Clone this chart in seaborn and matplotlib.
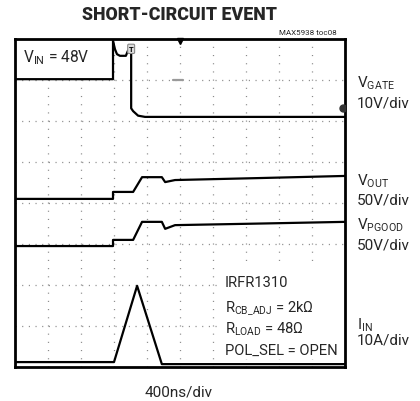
import numpy as np
import pandas as pd
import matplotlib
matplotlib.use("Agg")
import matplotlib.pyplot as plt
import seaborn as sns
from matplotlib import font_manager as fm

# ---------------- data (scope divisions: x 0..10, y 0..8) ----------------
t_gate = [0.0, 2.97, 2.97, 3.03, 3.09, 3.18, 3.36, 3.42, 3.52, 3.52, 3.58, 3.73, 3.94, 10.0]
v_gate = [7.02, 7.02, 7.95, 7.75, 7.63, 7.59, 7.59, 7.71, 7.78, 6.31, 6.24, 6.13, 6.10, 6.10]

t_out = [0.0, 2.97, 2.97, 3.58, 3.85, 4.45, 4.55, 4.85, 7.5, 10.0]
v_out = [4.10, 4.10, 4.27, 4.27, 4.63, 4.63, 4.51, 4.56, 4.61, 4.66]

t_pg = [0.0, 2.97, 2.97, 3.58, 3.85, 4.45, 4.55, 4.85, 7.5, 10.0]
v_pg = [2.95, 2.95, 3.10, 3.10, 3.54, 3.54, 3.37, 3.46, 3.50, 3.54]

t_in = [0.0, 3.0, 3.70, 4.45, 10.0]
v_in = [0.12, 0.12, 1.98, 0.07, 0.07]

trace_names = ["VGATE", "VOUT", "VPGOOD", "IIN"]

right_labels = [r"$\mathregular{V_{GATE}}$", "10V/div",
                r"$\mathregular{V_{OUT}}$", "50V/div",
                r"$\mathregular{V_{PGOOD}}$", "50V/div",
                r"$\mathregular{I_{IN}}$", "10A/div"]
info_lines = ["IRFR1310",
              r"$\mathregular{R_{CB\_ADJ}}$ = 2kΩ",
              r"$\mathregular{R_{LOAD}}$ = 48Ω",
              "POL_SEL = OPEN"]
title = "SHORT-CIRCUIT EVENT"
vin_label = r"$\mathregular{V_{IN}}$ = 48V"
toc_label = "MAX5938 toc08"
time_label = "400ns/div"

# ---------------- style ----------------
sns.set_theme(style="white")
names = {f.name for f in fm.fontManager.ttflist}
FONT = "Roboto" if "Roboto" in names else "Liberation Sans"
plt.rcParams["font.family"] = [FONT, "DejaVu Sans"]
plt.rcParams["mathtext.fontset"] = "custom"
plt.rcParams["mathtext.rm"] = FONT
plt.rcParams["lines.scale_dashes"] = False

W, H = 420, 402
fig = plt.figure(figsize=(W / 100, H / 100), dpi=100)
fig.patch.set_facecolor("white")
L, R, T, B = 15, 345, 40, 368
ax = fig.add_axes([L / W, 1 - B / H, (R - L) / W, (B - T) / H])
ax.set_facecolor("white")
ax.set_xlim(0, 10)
ax.set_ylim(0, 8)
ax.set_xticks(np.arange(1, 10))
ax.set_yticks(np.arange(1, 8))
ax.tick_params(length=0, labelbottom=False, labelleft=False)
ax.xaxis.grid(True, color="#8a8a8a", lw=0.9, ls=(0, (0.8, 5.1)))
ax.yaxis.grid(True, color="#8a8a8a", lw=0.9, ls=(0, (0.8, 4.0)))
ax.set_axisbelow(True)
for s in ax.spines.values():
    s.set_visible(True)
    s.set_color("black")
    s.set_linewidth(2.0)


def fx(x):
    return x / W


def fy(y):
    return 1 - y / H


def dx(px):
    return (px - L) / 33.0


def dy(py):
    return (B - py) / 41.0


# white label boxes hiding the graticule
ax.add_patch(plt.Rectangle((dx(16), dy(77)), dx(112) - dx(16), dy(41) - dy(77),
                           facecolor="white", edgecolor="none", zorder=1.5))
ax.add_patch(plt.Rectangle((dx(218), dy(360)), dx(344) - dx(218), dy(266) - dy(360),
                           facecolor="white", edgecolor="none", zorder=1.5))

# traces
data = [(t_gate, v_gate), (t_out, v_out), (t_pg, v_pg), (t_in, v_in)]
for name, (tx, vy) in zip(trace_names, data):
    df = pd.DataFrame({"t": tx, "v": vy})
    sns.lineplot(data=df, x="t", y="v", ax=ax, color="black", lw=1.6,
                 sort=False, estimator=None, zorder=3, legend=False)
ax.set_xlabel("")
ax.set_ylabel("")

# scope markers
ax.plot([5.0], [7.94], marker="v", color="black", ms=5, zorder=4, clip_on=False)
ax.plot([9.95], [6.32], marker="o", color="#333333", ms=5, zorder=4)
ax.plot([4.79, 5.09], [7.0, 7.0], color="#9a9a9a", lw=1.6, zorder=2.5)
ax.text(3.52, 7.76, "T", fontsize=5.5, fontweight="bold", ha="center", va="center", zorder=5,
        color="black",
        bbox=dict(boxstyle="round,pad=0.15", fc="#dddddd", ec="#888888", lw=0.8))

# texts
fig.text(fx(180), fy(20), title, fontsize=12.8, fontweight="black", ha="center", va="baseline")
fig.text(fx(337), fy(35), toc_label, fontsize=5.8, ha="right", va="baseline")
fig.text(fx(23), fy(62), vin_label, fontsize=11.2, ha="left", va="baseline")
rl_base = [88, 107, 186, 205, 230, 250, 330, 345]
for txt, yb in zip(right_labels, rl_base):
    fig.text(fx(357), fy(yb), txt, fontsize=11, ha="left", va="baseline")
info_base = [287, 312, 334, 355]
for txt, yb in zip(info_lines, info_base):
    fig.text(fx(225), fy(yb), txt, fontsize=10.6, ha="left", va="baseline", zorder=6)
fig.text(fx(179), fy(397), time_label, fontsize=11, ha="center", va="baseline")

fig.savefig("out.png", dpi=100, facecolor="white")
